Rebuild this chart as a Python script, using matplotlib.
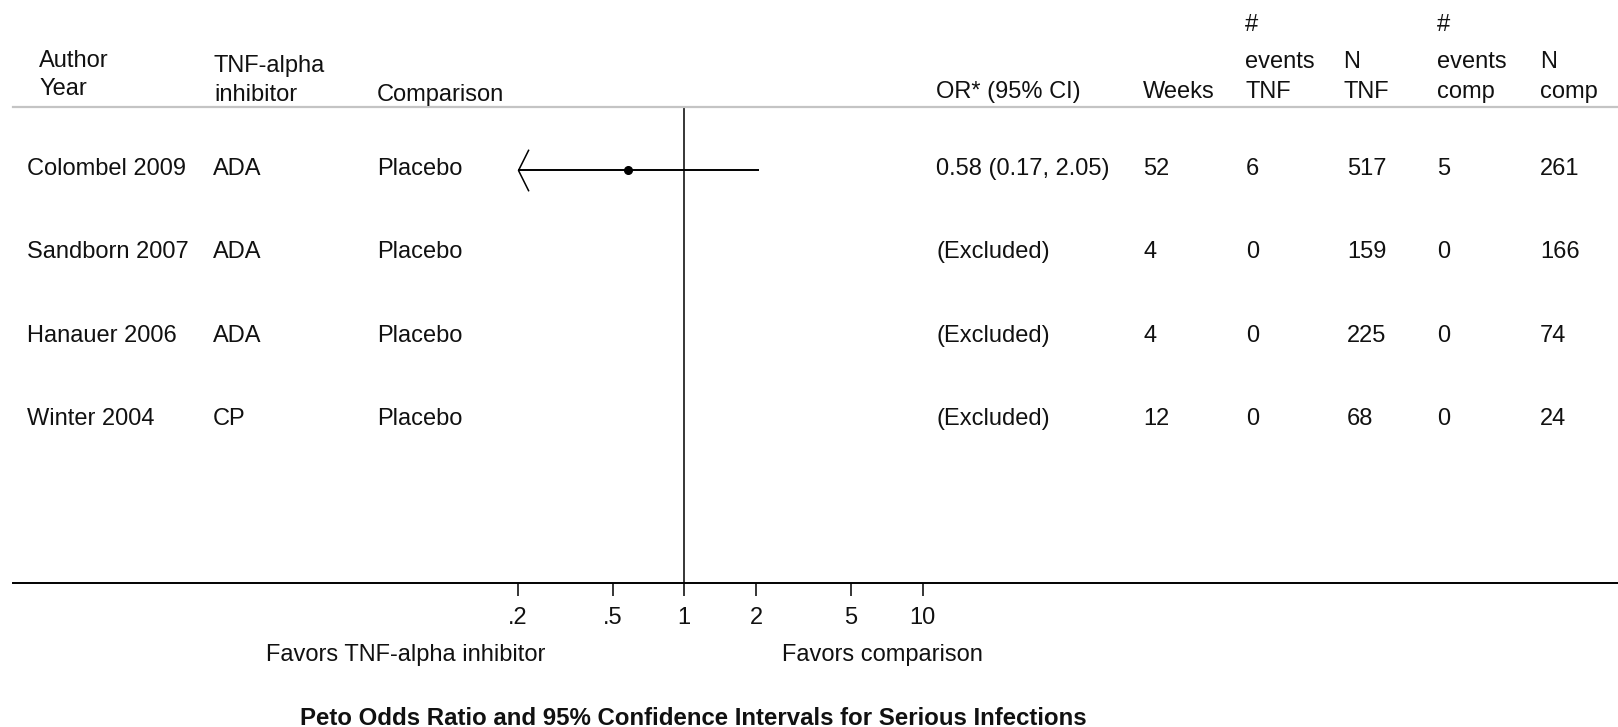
import numpy as np
import matplotlib
matplotlib.use("Agg")
import matplotlib.pyplot as plt
from matplotlib.path import Path
from matplotlib.ticker import NullLocator
from matplotlib.transforms import blended_transform_factory

# --- study table -----------------------------------------------------------
studies = ["Colombel 2009", "Sandborn 2007", "Hanauer 2006", "Winter 2004"]
drugs = ["ADA", "ADA", "ADA", "CP"]
comparisons = ["Placebo", "Placebo", "Placebo", "Placebo"]
odds_ratio = [0.58, np.nan, np.nan, np.nan]
ci_low = [0.17, np.nan, np.nan, np.nan]
ci_high = [2.05, np.nan, np.nan, np.nan]
weeks = [52, 4, 4, 12]
events_tnf = [6, 0, 0, 0]
n_tnf = [517, 159, 225, 68]
events_comp = [5, 0, 0, 0]
n_comp = [261, 166, 74, 24]

tick_values = [0.2, 0.5, 1, 2, 5, 10]
tick_labels = [".2", ".5", "1", "2", "5", "10"]

# --- layout (pixels of a 1618x727 canvas) ----------------------------------
W, H = 1618, 727
FONT = 17
LINE_TOP, LINE_BOTTOM, LINE_LEFT = 107, 583, 13
X_ONE, PX_PER_DECADE = 684.3, 238.4     # where OR=1 sits, and log10 scale
ROW0, ROW_STEP = 170, 83.3

plt.rcParams["font.family"] = ["Liberation Sans", "DejaVu Sans"]
plt.rcParams["text.color"] = "#111111"


def fx(px):
    return px / W


def fy(px):
    return 1 - px / H


fig = plt.figure(figsize=(W / 100, H / 100), dpi=100)
ax = fig.add_axes([fx(LINE_LEFT), fy(LINE_BOTTOM), 1 - fx(LINE_LEFT),
                   fy(LINE_TOP) - fy(LINE_BOTTOM)])
ax.set_xscale("log")
ax.set_xlim(10 ** ((LINE_LEFT - X_ONE) / PX_PER_DECADE),
            10 ** ((W - X_ONE) / PX_PER_DECADE))
ax.set_ylim((LINE_BOTTOM - ROW0) / ROW_STEP, (LINE_TOP - ROW0) / ROW_STEP)

ax.set_xticks(tick_values)
ax.set_xticklabels(tick_labels)
ax.xaxis.set_minor_locator(NullLocator())
ax.tick_params(axis="x", length=9.5, width=1.1, pad=7.5, labelsize=FONT,
               colors="black", labelcolor="#111111")
ax.set_yticks([])
for side in ("left", "right"):
    ax.spines[side].set_visible(False)
ax.spines["top"].set_color("#c4c4c4")
ax.spines["top"].set_linewidth(1.6)
ax.spines["bottom"].set_linewidth(1.4)

ax.axvline(1, color="black", lw=1.1)

# open chevron marking a CI that runs past the smallest tick
chevron = Path([(0.5, 1.0), (0.0, 0.0), (0.5, -1.0)],
               [Path.MOVETO, Path.LINETO, Path.LINETO])
floor = tick_values[0]

rows = np.arange(len(studies))
for y, est, lo, hi in zip(rows, odds_ratio, ci_low, ci_high):
    if np.isnan(est):
        continue
    ax.plot([max(lo, floor), hi], [y, y], color="black", lw=1.4,
            solid_capstyle="butt")
    if lo < floor:
        ax.plot(floor, y, marker=chevron, ms=30, mfc="none", mec="black",
                mew=1.1)
    ax.plot(est, y, "o", ms=5.5, color="black")

# --- table text ------------------------------------------------------------
row_text = blended_transform_factory(fig.transFigure, ax.transData)
baseline = 5 / ROW_STEP


def or_label(est, lo, hi):
    if np.isnan(est):
        return "(Excluded)"
    return f"{est:.2f} ({lo:.2f}, {hi:.2f})"


columns = [
    (27, studies),
    (213, drugs),
    (377, comparisons),
    (936, [or_label(*v) for v in zip(odds_ratio, ci_low, ci_high)]),
    (1143, weeks),
    (1246, events_tnf),
    (1347, n_tnf),
    (1437, events_comp),
    (1540, n_comp),
]
for x, values in columns:
    for y, v in zip(rows, values):
        ax.text(fx(x), y + baseline, str(v), transform=row_text,
                fontsize=FONT, va="baseline", ha="left")

headers = [
    (39, 67, "Author"), (39, 95, "Year"),
    (214, 72, "TNF-alpha"), (214, 101, "inhibitor"),
    (377, 101, "Comparison"),
    (936, 98, "OR* (95% CI)"),
    (1143, 98, "Weeks"),
    (1245, 31, "#"), (1245, 68, "events"), (1245, 98, "TNF"),
    (1343, 68, "N"), (1343, 98, "TNF"),
    (1437, 31, "#"), (1437, 68, "events"), (1437, 98, "comp"),
    (1540, 68, "N"), (1540, 98, "comp"),
]
for x, y, s in headers:
    fig.text(fx(x), fy(y), s, fontsize=FONT, va="baseline", ha="left")

fig.text(fx(266), fy(661), "Favors TNF-alpha inhibitor", fontsize=FONT,
         va="baseline")
fig.text(fx(782), fy(661), "Favors comparison", fontsize=FONT, va="baseline")
fig.text(fx(300), fy(725),
         "Peto Odds Ratio and 95% Confidence Intervals for Serious Infections",
         fontsize=17.3, fontweight="bold", va="baseline")

fig.savefig("out.png", dpi=100, facecolor="white")
